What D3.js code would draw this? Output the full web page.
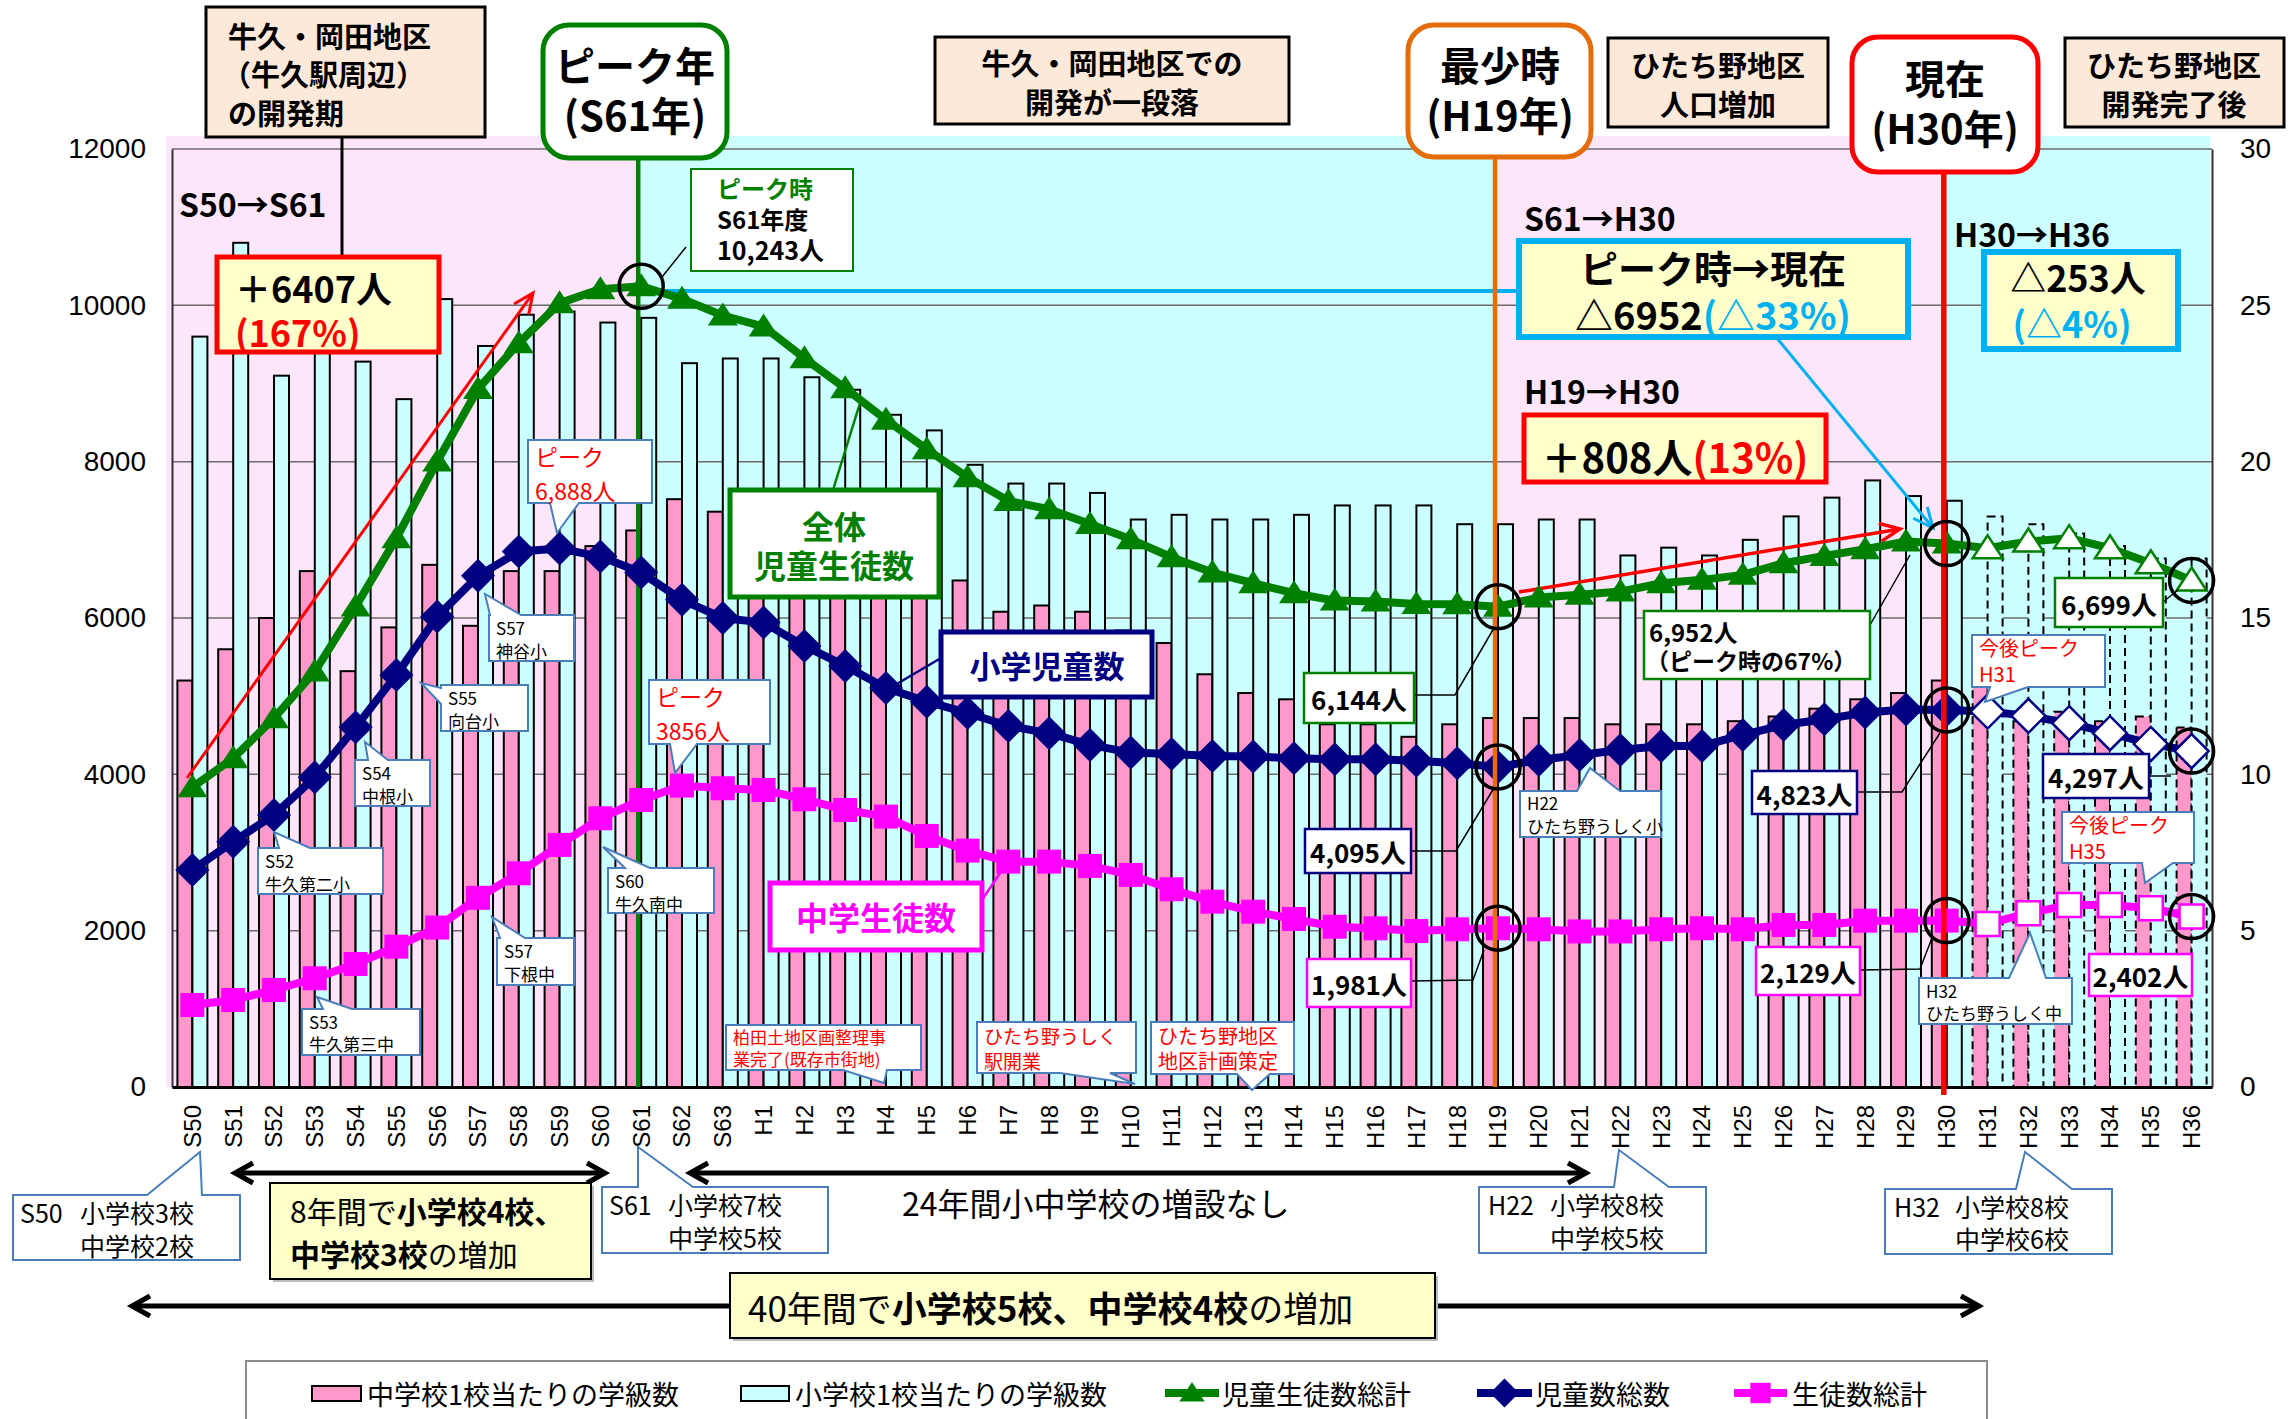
<!DOCTYPE html>
<html lang="ja">
<head>
<meta charset="utf-8">
<title>児童生徒数の推移</title>
<script src="https://cdn.jsdelivr.net/npm/d3@7"></script>
<style>
  html, body { margin: 0; padding: 0; background: #fff; }
  svg { display: block; }
</style>
</head>
<body>
<main></main>
<script>
// Constants
const WIDTH = 2288;
const HEIGHT = 1419;
const PLOT = { left: 172, right: 2212, top: 149, bottom: 1087 };
const JP = "'Noto Sans CJK JP', 'Noto Sans', sans-serif";
const LATIN = "'Liberation Sans', Arial, sans-serif";

const PINK = '#FF99CC';
const CYAN = '#CCFFFF';
const PINK_BG = '#FDE6FA';
const PEACH = '#FDE9D9';
const YELLOW = '#FFFFCC';
const GREEN = '#008000';
const NAVY = '#000080';
const MAGENTA = '#FF00FF';
const SKY = '#00B0F0';
const ORANGE = '#E46C0A';
const RED = '#FF0000';
const CALLOUT = '#4A7EBB';

// Data
const categories = [
  'S50', 'S51', 'S52', 'S53', 'S54', 'S55', 'S56', 'S57', 'S58', 'S59', 'S60', 'S61', 'S62', 'S63',
  'H1', 'H2', 'H3', 'H4', 'H5', 'H6', 'H7', 'H8', 'H9', 'H10',
  'H11', 'H12', 'H13', 'H14', 'H15', 'H16', 'H17', 'H18', 'H19', 'H20',
  'H21', 'H22', 'H23', 'H24', 'H25', 'H26', 'H27', 'H28', 'H29', 'H30',
  'H31', 'H32', 'H33', 'H34', 'H35', 'H36',
];

// 中学校1校当たりの学級数 (right axis)
const juniorClasses = [
  13.0, 14.0, 15.0, 16.5, 13.3, 14.7, 16.7, 14.75, 16.5, 16.5, 17.3, 17.8, 18.8, 18.4,
  18.0, 17.5, 17.0, 16.6, 16.3, 16.2, 15.2, 15.4, 15.2, 14.6,
  14.2, 13.2, 12.6, 12.4, 11.6, 11.6, 11.2, 11.6, 11.8, 11.8,
  11.8, 11.6, 11.6, 11.6, 11.7, 11.85, 12.1, 12.4, 12.6, 13.0,
  12.8, 11.7, 12.0, 11.7, 11.85, 11.5,
];

// 小学校1校当たりの学級数 (right axis)
const elemClasses = [
  24.0, 27.0, 22.75, 24.2, 23.2, 22.0, 25.2, 23.7, 24.7, 24.8, 24.45, 24.6, 23.15, 23.3,
  23.3, 22.7, 22.3, 21.5, 21.0, 19.9, 19.3, 19.3, 19.0, 18.15,
  18.3, 18.15, 18.15, 18.3, 18.6, 18.6, 18.6, 18.0, 18.0, 18.15,
  18.15, 17.0, 17.25, 17.0, 17.5, 18.25, 18.85, 19.4, 18.9, 18.75,
  18.25, 18.0, 17.7, 17.3, 16.9, 16.9,
];

// 児童生徒数総計
const totalStudents = [
  3836, 4206, 4718, 5315, 6146, 7021, 8002, 8930, 9516, 10028, 10207, 10243, 10083, 9870,
  9729, 9324, 8940, 8535, 8160, 7800, 7498, 7391, 7203, 7007,
  6777, 6581, 6445, 6317, 6223, 6210, 6180, 6175, 6144, 6261,
  6296, 6338, 6445, 6488, 6552, 6701, 6794, 6880, 6978, 6952,
  6893, 6978, 7021, 6893, 6700, 6480,
];

// 児童数総数
const elemStudents = [
  2777, 3139, 3480, 3963, 4603, 5272, 6018, 6539, 6850, 6888, 6786, 6581, 6232, 6000,
  5941, 5643, 5387, 5105, 4930, 4785, 4619, 4526, 4376, 4278,
  4261, 4235, 4227, 4206, 4193, 4193, 4175, 4142, 4095, 4184,
  4248, 4312, 4363, 4363, 4504, 4632, 4705, 4790, 4830, 4823,
  4803, 4748, 4654, 4526, 4389, 4297,
];

// 生徒数総計
const juniorStudents = [
  1049, 1113, 1241, 1391, 1574, 1795, 2040, 2420, 2734, 3097, 3438, 3672, 3856, 3822,
  3800, 3681, 3544, 3459, 3212, 3024, 2883, 2883, 2828, 2713,
  2530, 2371, 2243, 2150, 2050, 2030, 1995, 2018, 2031, 2018,
  1990, 1990, 2018, 2031, 2018, 2073, 2073, 2128, 2128, 2129,
  2086, 2223, 2329, 2329, 2287, 2180,
];

const leftTicks = [0, 2000, 4000, 6000, 8000, 10000, 12000];
const rightTicks = [0, 5, 10, 15, 20, 25, 30];
const FUTURE_START = categories.indexOf('H31');

const rows = categories.map((c, i) => ({
  c,
  i,
  jc: juniorClasses[i],
  ec: elemClasses[i],
  tot: totalStudents[i],
  el: elemStudents[i],
  jn: juniorStudents[i],
  future: i >= FUTURE_START,
}));

// Scales
const x = d3.scaleBand(categories, [PLOT.left, PLOT.right]);
const cx = (c) => x(c) + x.bandwidth() / 2;
const yLeft = d3.scaleLinear([0, 12000], [PLOT.bottom, PLOT.top]);
const yRight = d3.scaleLinear([0, 30], [PLOT.bottom, PLOT.top]);
const lineX = (c) => cx(c) - 3;

// Helpers
function box(g, x0, y0, w, h, { fill = '#fff', stroke = '#000', sw = 2, rx = 0 } = {}) {
  return g.append('rect')
    .attr('x', x0).attr('y', y0).attr('width', w).attr('height', h).attr('rx', rx)
    .attr('fill', fill).attr('stroke', stroke).attr('stroke-width', sw);
}

function text(g, x0, y0, parts, { size = 20, weight = 400, anchor = 'start', family = JP, fill = '#000' } = {}) {
  const t = g.append('text')
    .attr('x', x0).attr('y', y0)
    .attr('font-family', family).attr('font-size', size).attr('font-weight', weight)
    .attr('text-anchor', anchor).attr('dominant-baseline', 'central').attr('fill', fill);
  const list = Array.isArray(parts) ? parts : [[parts]];
  list.forEach(([s, color, w]) => {
    t.append('tspan').text(s).attr('fill', color || fill).attr('font-weight', w || weight);
  });
  return t;
}

function poly(g, pts, color = '#000', sw = 1.5) {
  g.append('polyline')
    .attr('points', pts.map((p) => p.join(',')).join(' '))
    .attr('fill', 'none').attr('stroke', color).attr('stroke-width', sw);
}

function arrow(g, x1, y1, x2, y2, { color = '#000', sw = 3, back = 20, half = 9, both = false } = {}) {
  g.append('line').attr('x1', x1).attr('y1', y1).attr('x2', x2).attr('y2', y2)
    .attr('stroke', color).attr('stroke-width', sw);
  const head = (px, py, ang) => {
    const ux = Math.cos(ang);
    const uy = Math.sin(ang);
    const bx = px - ux * back;
    const by = py - uy * back;
    poly(g, [[bx - uy * half, by + ux * half], [px, py], [bx + uy * half, by - ux * half]], color, sw);
  };
  const ang = Math.atan2(y2 - y1, x2 - x1);
  head(x2, y2, ang);
  if (both) head(x1, y1, ang + Math.PI);
}

function callout(g, x0, y0, w, h, side, a, b, [tx, ty], stroke = CALLOUT) {
  let d;
  if (side === 'top') d = `M${x0},${y0}H${a}L${tx},${ty}L${b},${y0}H${x0 + w}V${y0 + h}H${x0}Z`;
  else if (side === 'bottom') d = `M${x0},${y0}H${x0 + w}V${y0 + h}H${b}L${tx},${ty}L${a},${y0 + h}H${x0}Z`;
  else d = `M${x0},${y0}H${x0 + w}V${y0 + h}H${x0}V${b}L${tx},${ty}L${x0},${a}Z`;
  g.append('path').attr('d', d).attr('fill', '#fff').attr('stroke', stroke).attr('stroke-width', 2);
}

// Main SVG
const svg = d3.select('main').append('svg').attr('width', WIDTH).attr('height', HEIGHT);
svg.append('rect').attr('width', WIDTH).attr('height', HEIGHT).attr('fill', '#fff');

// Background periods
const gBg = svg.append('g');
[
  [166, lineX('S61'), PINK_BG],
  [lineX('S61'), lineX('H19'), CYAN],
  [lineX('H19'), lineX('H30'), PINK_BG],
  [lineX('H30'), PLOT.right - 2, CYAN],
].forEach(([a, b, fill]) => {
  gBg.append('rect').attr('x', a).attr('y', 136).attr('width', b - a)
    .attr('height', PLOT.bottom - 136).attr('fill', fill);
});

// Gridlines
svg.append('g').selectAll('line').data(leftTicks.slice(1)).join('line')
  .attr('x1', PLOT.left).attr('x2', PLOT.right)
  .attr('y1', (d) => yLeft(d)).attr('y2', (d) => yLeft(d))
  .attr('stroke', '#6b6b6b').attr('stroke-width', 1.5);

// Bars
const BW = 15;
const gBars = svg.append('g');
gBars.selectAll('rect.junior').data(rows).join('rect')
  .attr('class', 'junior')
  .attr('x', (d) => cx(d.c) - BW).attr('width', BW)
  .attr('y', (d) => yRight(d.jc)).attr('height', (d) => PLOT.bottom - yRight(d.jc))
  .attr('fill', PINK).attr('stroke', '#000').attr('stroke-width', 2)
  .attr('stroke-dasharray', (d) => (d.future ? '8,5' : null));
gBars.selectAll('rect.elem').data(rows).join('rect')
  .attr('class', 'elem')
  .attr('x', (d) => cx(d.c)).attr('width', BW)
  .attr('y', (d) => yRight(d.ec)).attr('height', (d) => PLOT.bottom - yRight(d.ec))
  .attr('fill', CYAN).attr('stroke', '#000').attr('stroke-width', 2)
  .attr('stroke-dasharray', (d) => (d.future ? '8,5' : null));

// Axes
const leftAxis = svg.append('g').attr('transform', `translate(${PLOT.left},0)`)
  .call(d3.axisLeft(yLeft).tickValues(leftTicks).tickFormat(d3.format('d')).tickSize(0).tickPadding(26));
const rightAxis = svg.append('g').attr('transform', `translate(${PLOT.right},0)`)
  .call(d3.axisRight(yRight).tickValues(rightTicks).tickFormat(d3.format('d')).tickSize(0).tickPadding(28));
[leftAxis, rightAxis].forEach((ax) => {
  ax.select('.domain').attr('stroke', '#333').attr('stroke-width', 2);
  ax.selectAll('text').attr('font-family', LATIN).attr('font-size', 28).attr('fill', '#000');
});
const bottomAxis = svg.append('g').attr('transform', `translate(0,${PLOT.bottom})`)
  .call(d3.axisBottom(x).tickSize(0));
bottomAxis.select('.domain').attr('stroke', '#000').attr('stroke-width', 3);
bottomAxis.selectAll('text')
  .attr('font-family', LATIN).attr('font-size', 24).attr('fill', '#000')
  .attr('transform', 'rotate(-90)')
  .attr('x', -18).attr('y', 0).attr('dy', '0.35em')
  .attr('text-anchor', 'end');

// Peak-year vertical line (behind series)
const gBack = svg.append('g');
gBack.append('line').attr('x1', lineX('S61')).attr('x2', lineX('S61'))
  .attr('y1', 158).attr('y2', PLOT.bottom).attr('stroke', GREEN).attr('stroke-width', 4.5);

// Trend arrows
arrow(gBack, 187, 778, 533, 293, { color: RED, sw: 3 });
arrow(gBack, 1519, 592, 1900, 529, { color: RED, sw: 3.5 });
gBack.append('line').attr('x1', 665).attr('x2', 1519).attr('y1', 291).attr('y2', 291)
  .attr('stroke', SKY).attr('stroke-width', 4);
arrow(gBack, 1776, 337, 1933, 528, { color: SKY, sw: 3 });

// Series lines and markers
const TRI = 'M0,-13L15,10L-15,10Z';
const DIAMOND = 'M0,-17L17,0L0,17L-17,0Z';
const SQUARE = 'M-12,-12H12V12H-12Z';
const seriesDefs = [
  { key: 'tot', color: GREEN, shape: TRI },
  { key: 'el', color: NAVY, shape: DIAMOND },
  { key: 'jn', color: MAGENTA, shape: SQUARE },
];
const gSeries = svg.append('g');
seriesDefs.forEach(({ key, color, shape }) => {
  const line = d3.line().x((d) => cx(d.c)).y((d) => yLeft(d[key]));
  gSeries.append('path').datum(rows).attr('d', line)
    .attr('fill', 'none').attr('stroke', color).attr('stroke-width', 8)
    .attr('stroke-linejoin', 'round');
  gSeries.selectAll(null).data(rows).join('path')
    .attr('d', shape)
    .attr('transform', (d) => `translate(${cx(d.c)},${yLeft(d[key])})`)
    .attr('fill', (d) => (d.future ? '#fff' : color))
    .attr('stroke', color).attr('stroke-width', (d) => (d.future ? 2.5 : 0));
});

// Milestone vertical lines (in front)
const gFront = svg.append('g');
gFront.append('line').attr('x1', lineX('H19')).attr('x2', lineX('H19'))
  .attr('y1', 157).attr('y2', PLOT.bottom).attr('stroke', ORANGE).attr('stroke-width', 4.5);
gFront.append('line').attr('x1', lineX('H30')).attr('x2', lineX('H30'))
  .attr('y1', 172).attr('y2', PLOT.bottom + 8).attr('stroke', RED).attr('stroke-width', 5.5);

// Highlight circles
const circled = [
  ['S61', 'tot'],
  ['H19', 'tot'], ['H19', 'el'], ['H19', 'jn'],
  ['H30', 'tot'], ['H30', 'el'], ['H30', 'jn'],
  ['H36', 'tot'], ['H36', 'el'], ['H36', 'jn'],
];
gFront.selectAll('circle').data(circled).join('circle')
  .attr('cx', ([c]) => cx(c))
  .attr('cy', ([c, k]) => yLeft(rows[categories.indexOf(c)][k]))
  .attr('r', 22).attr('fill', 'none').attr('stroke', '#000').attr('stroke-width', 3.5);

// Annotations
const g = svg.append('g');

// Leader lines
poly(g, [[342, 137], [342, 257]], '#000', 3);
poly(g, [[686, 247], [662, 277]]);
poly(g, [[1414, 695], [1455, 695], [1494, 628]]);
poly(g, [[1411, 851], [1456, 851], [1494, 788]]);
poly(g, [[1411, 981], [1473, 980], [1484, 950]]);
poly(g, [[1870, 625], [1910, 555]]);
poly(g, [[1857, 792], [1902, 792], [1940, 733]]);
poly(g, [[1860, 970], [1920, 969], [1932, 938]]);
poly(g, [[2163, 602], [2178, 590]]);
poly(g, [[2149, 776], [2171, 776]]);
poly(g, [[833, 490], [860, 403]], GREEN, 2.5);
poly(g, [[941, 658], [895, 685]], NAVY, 2.5);
poly(g, [[980, 903], [1004, 867]], MAGENTA, 2.5);

// Top period boxes
box(g, 206, 7, 279, 130, { fill: PEACH, sw: 3 });
text(g, 228, 35, '牛久・岡田地区', { size: 29, weight: 700 });
text(g, 222, 73, '（牛久駅周辺）', { size: 29, weight: 700 });
text(g, 228, 112, 'の開発期', { size: 29, weight: 700 });

box(g, 935, 37, 354, 87, { fill: PEACH, sw: 3 });
text(g, 1112, 62, '牛久・岡田地区での', { size: 29, weight: 700, anchor: 'middle' });
text(g, 1112, 101, '開発が一段落', { size: 29, weight: 700, anchor: 'middle' });

box(g, 1608, 38, 220, 89, { fill: PEACH, sw: 3 });
text(g, 1718, 64, 'ひたち野地区', { size: 29, weight: 700, anchor: 'middle' });
text(g, 1718, 103, '人口増加', { size: 29, weight: 700, anchor: 'middle' });

box(g, 2065, 38, 219, 89, { fill: PEACH, sw: 3 });
text(g, 2174, 64, 'ひたち野地区', { size: 29, weight: 700, anchor: 'middle' });
text(g, 2174, 103, '開発完了後', { size: 29, weight: 700, anchor: 'middle' });

// Milestone boxes
box(g, 543, 25, 184, 133, { stroke: GREEN, sw: 5, rx: 26 });
text(g, 635, 64, 'ピーク年', { size: 40, weight: 700, anchor: 'middle' });
text(g, 635, 114, '(S61年)', { size: 40, weight: 700, anchor: 'middle' });

box(g, 1408, 25, 183, 132, { stroke: ORANGE, sw: 5, rx: 26 });
text(g, 1500, 64, '最少時', { size: 40, weight: 700, anchor: 'middle' });
text(g, 1500, 114, '(H19年)', { size: 40, weight: 700, anchor: 'middle' });

box(g, 1852, 37, 186, 135, { stroke: RED, sw: 5, rx: 26 });
text(g, 1945, 77, '現在', { size: 40, weight: 700, anchor: 'middle' });
text(g, 1945, 127, '(H30年)', { size: 40, weight: 700, anchor: 'middle' });

// Change summaries
text(g, 179, 203, 'S50→S61', { size: 32, weight: 700 });
box(g, 217, 257, 222, 95, { fill: YELLOW, stroke: RED, sw: 5 });
text(g, 235, 287, '＋6407人', { size: 36, weight: 700 });
text(g, 235, 331, '(167%)', { size: 36, weight: 700, fill: RED });

box(g, 691, 169, 162, 102, { stroke: GREEN, sw: 2 });
text(g, 717, 187, 'ピーク時', { size: 24, weight: 700, fill: GREEN });
text(g, 717, 218, 'S61年度', { size: 24, weight: 700 });
text(g, 717, 249, '10,243人', { size: 25, weight: 700 });

text(g, 1524, 217, 'S61→H30', { size: 32, weight: 700 });
box(g, 1519, 241, 389, 96, { fill: YELLOW, stroke: SKY, sw: 6 });
text(g, 1713, 266, 'ピーク時→現在', { size: 38, weight: 700, anchor: 'middle' });
text(g, 1713, 313, [['△6952'], ['(△33%)', SKY]], { size: 38, weight: 700, anchor: 'middle' });

text(g, 1954, 233, 'H30→H36', { size: 32, weight: 700 });
box(g, 1984, 252, 194, 97, { fill: YELLOW, stroke: SKY, sw: 6 });
text(g, 2078, 276, '△253人', { size: 36, weight: 700, anchor: 'middle' });
text(g, 2072, 322, '(△4%)', { size: 36, weight: 700, anchor: 'middle', fill: SKY });

text(g, 1524, 390, 'H19→H30', { size: 32, weight: 700 });
box(g, 1524, 415, 302, 67, { fill: YELLOW, stroke: RED, sw: 5 });
text(g, 1675, 456, [['＋808人'], ['(13%)', RED]], { size: 40, weight: 700, anchor: 'middle' });

// Series name boxes
box(g, 730, 490, 209, 107, { stroke: GREEN, sw: 5 });
text(g, 834, 525, '全体', { size: 32, weight: 700, anchor: 'middle', fill: GREEN });
text(g, 834, 564, '児童生徒数', { size: 32, weight: 700, anchor: 'middle', fill: GREEN });
box(g, 941, 632, 211, 65, { stroke: NAVY, sw: 5 });
text(g, 1047, 664, '小学児童数', { size: 31, weight: 700, anchor: 'middle', fill: NAVY });
box(g, 770, 883, 212, 67, { stroke: MAGENTA, sw: 5 });
text(g, 876, 916, '中学生徒数', { size: 32, weight: 700, anchor: 'middle', fill: MAGENTA });

// Value labels
[
  [1304, 673, 110, 50, GREEN, '6,144人'],
  [1305, 829, 106, 44, NAVY, '4,095人'],
  [1307, 959, 104, 48, MAGENTA, '1,981人'],
  [1752, 771, 105, 43, NAVY, '4,823人'],
  [1756, 947, 104, 48, MAGENTA, '2,129人'],
  [2055, 578, 108, 49, GREEN, '6,699人'],
  [2043, 754, 106, 44, NAVY, '4,297人'],
  [2089, 954, 103, 42, MAGENTA, '2,402人'],
].forEach(([bx, by, w, h, color, s]) => {
  box(g, bx, by, w, h, { stroke: color, sw: 2.5 });
  text(g, bx + w / 2, by + h / 2, s, { size: 26, weight: 700, anchor: 'middle' });
});
box(g, 1644, 611, 226, 68, { stroke: GREEN, sw: 2.5 });
text(g, 1649, 631, '6,952人', { size: 24, weight: 700 });
text(g, 1646, 660, '（ピーク時の67%）', { size: 23, weight: 700 });

// School opening callouts
[
  [528, 440, 124, 63, 'bottom', 550, 579, [557, 533], ['ピーク', '6,888人'], RED, 23, 456, 490],
  [489, 615, 85, 46, 'top', 490, 521, [485, 594], ['S57', '神谷小'], '#000', 17, 627, 650],
  [441, 685, 87, 46, 'left', 688, 704, [421, 683], ['S55', '向台小'], '#000', 17, 697, 720],
  [355, 760, 75, 46, 'top', 368, 388, [365, 742], ['S54', '中根小'], '#000', 17, 772, 795],
  [258, 848, 125, 46, 'top', 279, 310, [274, 832], ['S52', '牛久第二小'], '#000', 17, 860, 883],
  [649, 680, 121, 64, 'bottom', 670, 697, [675, 773], ['ピーク', '3856人'], RED, 23, 696, 730],
  [608, 868, 106, 45, 'top', 625, 650, [603, 847], ['S60', '牛久南中'], '#000', 17, 880, 903],
  [497, 938, 77, 47, 'top', 500, 525, [492, 917], ['S57', '下根中'], '#000', 17, 950, 973],
  [302, 1009, 118, 46, 'top', 323, 352, [317, 997], ['S53', '牛久第三中'], '#000', 17, 1021, 1043],
  [726, 1025, 195, 45, 'bottom', 843, 887, [884, 1083], ['柏田土地区画整理事', '業完了(既存市街地)'], RED, 17, 1036, 1058],
  [977, 1022, 159, 51, 'bottom', 1060, 1110, [1135, 1084], ['ひたち野うしく', '駅開業'], RED, 19, 1035, 1060],
  [1151, 1022, 143, 52, 'bottom', 1237, 1270, [1252, 1090], ['ひたち野地区', '地区計画策定'], RED, 20, 1035, 1060],
  [1520, 791, 141, 46, 'top', 1577, 1620, [1590, 768], ['H22', 'ひたち野うしく小'], '#000', 17, 802, 825],
  [1972, 635, 133, 52, 'bottom', 1990, 2028, [1985, 702], ['今後ピーク', 'H31'], RED, 20, 647, 673],
  [2062, 812, 132, 51, 'bottom', 2142, 2173, [2145, 883], ['今後ピーク', 'H35'], RED, 20, 824, 850],
  [1919, 978, 153, 46, 'top', 2009, 2046, [2030, 933], ['H32', 'ひたち野うしく中'], '#000', 17, 990, 1012],
].forEach(([bx, by, w, h, side, a, b, tip, lines, color, size, l1, l2]) => {
  callout(g, bx, by, w, h, side, a, b, tip);
  text(g, bx + 7, l1, lines[0], { size, fill: color });
  text(g, bx + 7, l2, lines[1], { size, fill: color });
});

// School count callouts below axis
[
  [13, 1195, 227, 65, 147, 202, [200, 1152], 'S50', '小学校3校', '中学校2校', 20, 80, 1212, 1245],
  [602, 1187, 226, 66, 638, 693, [638, 1147], 'S61', '小学校7校', '中学校5校', 609, 668, 1204, 1237],
  [1479, 1187, 227, 66, 1614, 1669, [1619, 1150], 'H22', '小学校8校', '中学校5校', 1488, 1550, 1204, 1237],
  [1885, 1189, 227, 65, 2016, 2072, [2025, 1152], 'H32', '小学校8校', '中学校6校', 1894, 1955, 1206, 1238],
].forEach(([bx, by, w, h, a, b, tip, yr, l1, l2, xa, xb, ya, yb]) => {
  callout(g, bx, by, w, h, 'top', a, b, tip);
  text(g, xa, ya, yr, { size: 25 });
  text(g, xb, ya, l1, { size: 25 });
  text(g, xb, yb, l2, { size: 25 });
});

// School growth arrows
arrow(g, 235, 1173, 605, 1173, { sw: 5, back: 18, half: 10, both: true });
arrow(g, 690, 1173, 1586, 1173, { sw: 5, back: 18, half: 10, both: true });
arrow(g, 132, 1306, 1979, 1306, { sw: 5, back: 18, half: 10, both: true });

g.append('rect').attr('x', 273).attr('y', 1186).attr('width', 321).attr('height', 96).attr('fill', '#bbb');
box(g, 270, 1183, 321, 96, { fill: YELLOW, sw: 2 });
text(g, 290, 1210, [['8年間で'], ['小学校4校、', null, 700]], { size: 30 });
text(g, 290, 1253, [['中学校3校', null, 700], ['の増加']], { size: 30 });

text(g, 902, 1202, '24年間小中学校の増設なし', { size: 32 });

g.append('rect').attr('x', 733).attr('y', 1276).attr('width', 705).attr('height', 65).attr('fill', '#bbb');
box(g, 730, 1273, 705, 65, { fill: YELLOW, sw: 2 });
text(g, 748, 1306, [['40年間で'], ['小学校5校、中学校4校', null, 700], ['の増加']], { size: 35 });

// Legend
const gLegend = svg.append('g');
box(gLegend, 246, 1361, 1741, 80, { stroke: '#8c8c8c', sw: 2 });
box(gLegend, 312, 1386, 49, 15, { fill: PINK, sw: 2 });
text(gLegend, 367, 1393, '中学校1校当たりの学級数', { size: 27 });
box(gLegend, 741, 1386, 48, 15, { fill: CYAN, sw: 2 });
text(gLegend, 795, 1393, '小学校1校当たりの学級数', { size: 27 });
[
  [1165, 1219, GREEN, TRI, '児童生徒数総計', 1222],
  [1477, 1532, NAVY, DIAMOND, '児童数総数', 1535],
  [1734, 1787, MAGENTA, SQUARE, '生徒数総計', 1792],
].forEach(([a, b, color, shape, label, tx]) => {
  gLegend.append('line').attr('x1', a).attr('x2', b).attr('y1', 1393).attr('y2', 1393)
    .attr('stroke', color).attr('stroke-width', 8);
  gLegend.append('path').attr('d', shape)
    .attr('transform', `translate(${(a + b) / 2},1393) scale(0.85)`).attr('fill', color);
  text(gLegend, tx, 1393, label, { size: 27 });
});
</script>
</body>
</html>
